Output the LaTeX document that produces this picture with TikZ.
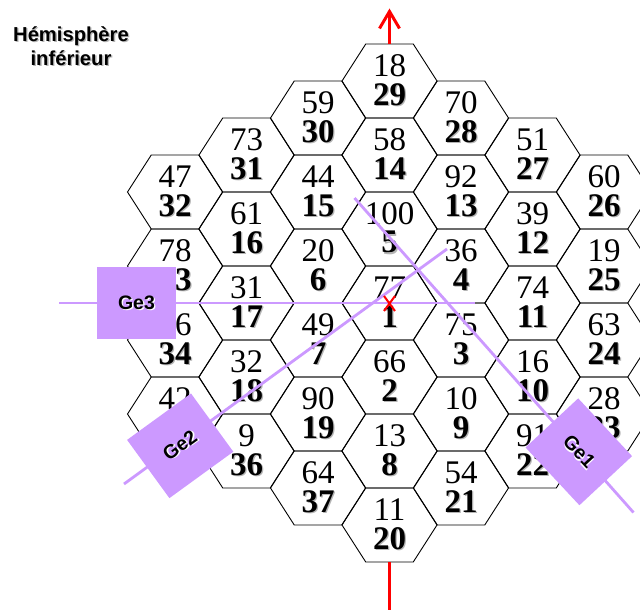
\documentclass[tikz,border=0pt]{standalone}
\usepackage{fontspec}
\setmainfont{Liberation Serif}
\newfontfamily\labelfont{Liberation Sans}
\usetikzlibrary{arrows.meta}
\definecolor{gebox}{HTML}{CC99FF}
\definecolor{shadowgray}{HTML}{B4B4B4}
\newcommand{\shadowed}[2][shadowgray]{\rlap{\kern1.3pt\raisebox{-1.3pt}{\textcolor{#1}{#2}}}#2}
\newcommand{\hexcell}[5]{%
  \draw[hexline] (#1-23.75,#2-37) -- (#1+23.75,#2-37) -- (#1+47.5,#2) -- (#1+23.75,#2+37) -- (#1-23.75,#2+37) -- (#1-47.5,#2) -- cycle;
  \coordinate (top#5) at (#1,#2-37);
  \coordinate (bot#5) at (#1,#2+37);
  \node[numtext] (n#5) at (#1,#2-15.5) {#3};
  \node[ranktext] (r#5) at (#1,#2+14) {\shadowed{#4}};
}
\tikzset{
  hexline/.style={draw=black,line width=0.9pt,line join=miter},
  numtext/.style={font=\fontsize{33}{33}\selectfont,inner sep=0pt,text=black},
  ranktext/.style={font=\fontsize{33}{33}\selectfont\bfseries,inner sep=0pt},
  geline/.style={draw=gebox,line width=2.8pt},
  gebox/.style={fill=gebox,draw=none,inner sep=0pt,minimum width=79pt,minimum height=72pt,font=\labelfont\bfseries\fontsize{19.5}{19.5}\selectfont},
  redline/.style={draw=red,line width=3pt},
}
\begin{document}
\begin{tikzpicture}[x=1pt,y=-1pt]
\useasboundingbox (0,0) rectangle (640,610);
\clip (0,0) rectangle (640,610);
\node[font=\labelfont\bfseries\fontsize{20.2}{24}\selectfont,align=center,inner sep=0pt] (title) at (71,47) {\shadowed{Hémisphère}\\\shadowed{inférieur}};
% column 0
\hexcell{389.5}{81}{18}{29}{29}
\hexcell{389.5}{155}{58}{14}{14}
\hexcell{389.5}{229}{100}{5}{5}
\hexcell{389.5}{303}{77}{1}{1}
\hexcell{389.5}{377}{66}{2}{2}
\hexcell{389.5}{451}{13}{8}{8}
\hexcell{389.5}{525}{11}{20}{20}
% column -1
\hexcell{318}{118}{59}{30}{30}
\hexcell{318}{192}{44}{15}{15}
\hexcell{318}{266}{20}{6}{6}
\hexcell{318}{340}{49}{7}{7}
\hexcell{318}{414}{90}{19}{19}
\hexcell{318}{488}{64}{37}{37}
% column -2
\hexcell{246.5}{155}{73}{31}{31}
\hexcell{246.5}{229}{61}{16}{16}
\hexcell{246.5}{303}{31}{17}{17}
\hexcell{246.5}{377}{32}{18}{18}
\hexcell{246.5}{451}{9}{36}{36}
% column -3
\hexcell{175}{192}{47}{32}{32}
\hexcell{175}{266}{78}{33}{33}
\hexcell{175}{340}{\phantom{7}6}{34}{34}
\hexcell{175}{414}{42}{35}{35}
% column 1
\hexcell{461}{118}{70}{28}{28}
\hexcell{461}{192}{92}{13}{13}
\hexcell{461}{266}{36}{4}{4}
\hexcell{461}{340}{75}{3}{3}
\hexcell{461}{414}{10}{9}{9}
\hexcell{461}{488}{54}{21}{21}
% column 2
\hexcell{532.5}{155}{51}{27}{27}
\hexcell{532.5}{229}{39}{12}{12}
\hexcell{532.5}{303}{74}{11}{11}
\hexcell{532.5}{377}{16}{10}{10}
\hexcell{532.5}{451}{91}{22}{22}
% column 3
\hexcell{604}{192}{60}{26}{26}
\hexcell{604}{266}{19}{25}{25}
\hexcell{604}{340}{63}{24}{24}
\hexcell{604}{414}{28}{23}{23}
% detector axes
\coordinate (g3a) at (59,303);
\coordinate (g3b) at (475,303);
\coordinate (g2a) at (124,484);
\coordinate (g2b) at (447,249);
\coordinate (g1a) at (354.5,198);
\coordinate (g1b) at (633.5,512.5);
\draw[geline] (g3a) -- (g3b);
\draw[geline] (g2a) -- (g2b);
\draw[geline] (g1a) -- (g1b);
\node[gebox] (ge3) at (136.5,303) {\shadowed[white]{Ge3}};
\node[gebox,rotate=36] (ge2) at (180.2,445.8) {\shadowed[white]{Ge2}};
\node[gebox,rotate=-47] (ge1) at (578.8,451.8) {\shadowed[white]{Ge1}};
% beam
\coordinate (arrowtip) at (389.5,8.5);
\coordinate (beamend) at (389.5,612);
\draw[redline,-{Straight Barb[length=17pt,width=20pt,line width=3pt]}] (top29) -- (arrowtip);
\draw[redline] (bot20) -- (beamend);
\coordinate (xa) at (384,296);
\coordinate (xb) at (395,311);
\coordinate (xc) at (395,296);
\coordinate (xd) at (384,311);
\draw[draw=red,line width=2pt] (xa) -- (xb) (xc) -- (xd);
\end{tikzpicture}
\end{document}
